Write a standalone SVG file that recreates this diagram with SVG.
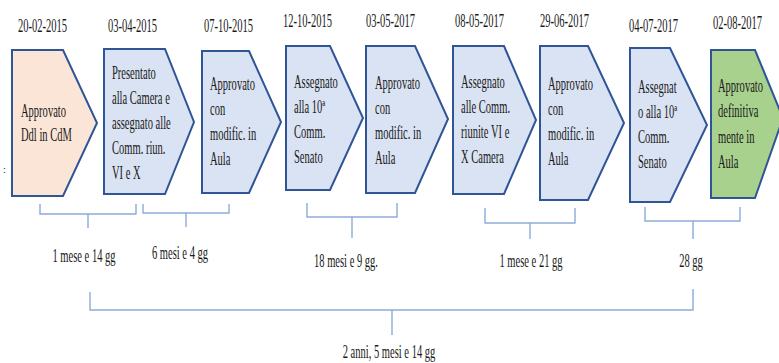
<svg xmlns="http://www.w3.org/2000/svg" width="779" height="363" viewBox="0 0 779 363">
<style>
.n{stroke:#2f5597;stroke-width:2;stroke-linejoin:miter}
.peach{fill:#fbe5d6}
.blue{fill:#dae3f3}
.green{fill:#a9d18e}
text{font-family:"Liberation Serif","Times New Roman",serif;font-size:18px;fill:#1a1a1a}
.m{text-anchor:middle}
.c path{fill:none;stroke:#8eaadb;stroke-width:1.4}
</style>
<rect width="779" height="363" fill="#ffffff"/>
<g id="n1">
<polygon class="n peach" points="12,50 63,50 97,123 63,196 12,196"/>
<text transform="translate(18,32) scale(0.585,1)">20-02-2015</text>
<text transform="translate(21,117) scale(0.585,1)"><tspan x="0">Approvato</tspan><tspan x="0" dy="24.5">Ddl in CdM</tspan></text>
</g>
<g id="n2">
<polygon class="n blue" points="104,49 165,49 194,122 165,194 104,194"/>
<text transform="translate(108,32) scale(0.585,1)">03-04-2015</text>
<text transform="translate(112,79) scale(0.585,1)"><tspan x="0">Presentato</tspan><tspan x="0" dy="25">alla Camera e</tspan><tspan x="0" dy="25">assegnato alle</tspan><tspan x="0" dy="25">Comm. riun.</tspan><tspan x="0" dy="25">VI e X</tspan></text>
</g>
<g id="n3">
<polygon class="n blue" points="202,51 249,51 281,122 249,193 202,193"/>
<text transform="translate(204,32) scale(0.585,1)">07-10-2015</text>
<text transform="translate(210,90) scale(0.585,1)"><tspan x="0">Approvato</tspan><tspan x="0" dy="25">con</tspan><tspan x="0" dy="25">modific. in</tspan><tspan x="0" dy="25">Aula</tspan></text>
</g>
<g id="n4">
<polygon class="n blue" points="286,46 330,46 363,118 330,190 286,190"/>
<text transform="translate(283,27) scale(0.585,1)">12-10-2015</text>
<text transform="translate(294,88) scale(0.585,1)"><tspan x="0">Assegnato</tspan><tspan x="0" dy="25">alla 10ª</tspan><tspan x="0" dy="25">Comm.</tspan><tspan x="0" dy="25">Senato</tspan></text>
</g>
<g id="n5">
<polygon class="n blue" points="366,46 415,46 448,119 415,193 366,193"/>
<text transform="translate(366,27) scale(0.585,1)">03-05-2017</text>
<text transform="translate(375,89) scale(0.585,1)"><tspan x="0">Approvato</tspan><tspan x="0" dy="25">con</tspan><tspan x="0" dy="25">modific. in</tspan><tspan x="0" dy="25">Aula</tspan></text>
</g>
<g id="n6">
<polygon class="n blue" points="453,46 504,46 536,120 504,194 453,194"/>
<text transform="translate(455,27) scale(0.585,1)">08-05-2017</text>
<text transform="translate(461,88) scale(0.585,1)"><tspan x="0">Assegnato</tspan><tspan x="0" dy="25">alle Comm.</tspan><tspan x="0" dy="25">riunite VI e</tspan><tspan x="0" dy="25">X Camera</tspan></text>
</g>
<g id="n7">
<polygon class="n blue" points="540,46 588,46 624,123 588,200 540,200"/>
<text transform="translate(540,27) scale(0.585,1)">29-06-2017</text>
<text transform="translate(548,90) scale(0.585,1)"><tspan x="0">Approvato</tspan><tspan x="0" dy="25">con</tspan><tspan x="0" dy="25">modific. in</tspan><tspan x="0" dy="25">Aula</tspan></text>
</g>
<g id="n8">
<polygon class="n blue" points="630,48 670,48 707,125 670,202 630,202"/>
<text transform="translate(629,32) scale(0.585,1)">04-07-2017</text>
<text transform="translate(638,93) scale(0.585,1)"><tspan x="0">Assegnat</tspan><tspan x="0" dy="25">o alla 10ª</tspan><tspan x="0" dy="25">Comm.</tspan><tspan x="0" dy="25">Senato</tspan></text>
</g>
<g id="n9">
<polygon class="n green" points="711,50 755,50 783,118 755,198 711,198"/>
<text transform="translate(713,29) scale(0.585,1)">02-08-2017</text>
<text transform="translate(718,92) scale(0.585,1)"><tspan x="0">Approvato</tspan><tspan x="0" dy="25.3">definitiva</tspan><tspan x="0" dy="25.3">mente in</tspan><tspan x="0" dy="25.3">Aula</tspan></text>
</g>
<g id="connectors" class="c">
<path d="M40,204 V214 H136 V204 M88,214 V228"/>
<path d="M143,204 V213 H229 V204 M186,213 V227"/>
<path d="M307,203 V217 H397 V203 M352,217 V238"/>
<path d="M485,208 V223 H575 V208 M530,223 V239"/>
<path d="M645,207 V221 H740 V207 M693,221 V239"/>
<path d="M90,292 V310 H693 V289 M392,310 V335"/>
</g>
<g id="labels">
<text class="m" transform="translate(84,262) scale(0.585,1)">1 mese e 14 gg</text>
<text class="m" transform="translate(180,259) scale(0.585,1)">6 mesi e 4 gg</text>
<text class="m" transform="translate(346,267) scale(0.585,1)">18 mesi e 9 gg.</text>
<text class="m" transform="translate(531,267) scale(0.585,1)">1 mese e 21 gg</text>
<text class="m" transform="translate(691,267) scale(0.585,1)">28 gg</text>
<text class="m" transform="translate(389,358) scale(0.585,1)">2 anni, 5 mesi e 14 gg</text>
<text transform="translate(3,173)" style="font-size:10px">:</text>
</g>
</svg>
